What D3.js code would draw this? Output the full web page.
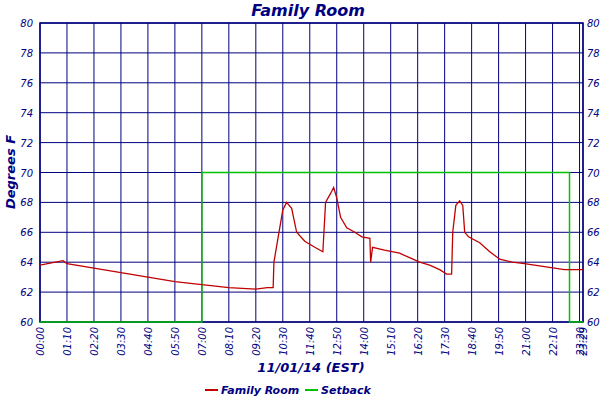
<!DOCTYPE html>
<html><head><meta charset="utf-8">
<script src="https://cdn.jsdelivr.net/npm/d3@7"></script>
<style>body{margin:0;background:#fff}text{font-family:"DejaVu Sans",sans-serif;font-style:italic;fill:#00007f}</style>
</head><body><svg id="c" width="600" height="400"></svg>
<script>
const roomTimes = ['00:00','00:40','01:00','01:10','02:20','03:30','04:40','05:50','07:00','08:10','09:20','09:50','10:05','10:07','10:30','10:40','10:53','11:06','11:27','11:53','12:14','12:21','12:34','12:42','12:50','13:00','13:16','13:37','13:55','14:16','14:18','14:23','14:54','15:33','15:59','16:25','16:51','17:17','17:35','17:48','17:51','17:59','18:09','18:17','18:22','18:32','19:01','19:27','19:53','20:26','20:57','21:49','22:41','23:29']
const roomTemps = [63.8,64.0,64.1,63.9,63.6,63.3,63.0,62.7,62.5,62.3,62.2,62.3,62.3,64.0,67.5,68.0,67.6,66.0,65.4,65.0,64.7,68.0,68.6,69.0,68.3,67.0,66.3,66.0,65.7,65.6,64.0,65.0,64.8,64.6,64.3,64.0,63.8,63.5,63.2,63.2,66.0,67.8,68.1,67.8,66.0,65.7,65.3,64.7,64.2,64.0,63.9,63.7,63.5,63.5]
const setbackTimes = ['00:00','07:00','22:54','23:29']
const setbackTemps = [60, 70, 60, 60]
const yTicks = [60, 62, 64, 66, 68, 70, 72, 74, 76, 78, 80]
const xTickLabels = ['00:00','01:10','02:20','03:30','04:40','05:50','07:00','08:10','09:20','10:30','11:40','12:50','14:00','15:10','16:20','17:30','18:40','19:50','21:00','22:10','23:20','23:29']

const mins = s => { const [h, m] = s.split(':').map(Number); return h * 60 + m }
const navy = '#00007f'
const svg = d3.select('#c')
const x = d3.scaleLinear().domain([0, mins('23:29')]).range([40, 583])
const y = d3.scaleLinear().domain([60, 80]).range([322, 23])

// grid
svg.append('g').selectAll('line').data(xTickLabels).join('line')
  .attr('x1', d => x(mins(d))).attr('x2', d => x(mins(d)))
  .attr('y1', y(80)).attr('y2', y(60)).attr('stroke', navy)
svg.append('g').selectAll('line').data(yTicks).join('line')
  .attr('x1', x.range()[0]).attr('x2', x.range()[1])
  .attr('y1', d => y(d)).attr('y2', d => y(d)).attr('stroke', navy)
svg.append('rect').attr('x', 40).attr('y', y(80)).attr('width', 543).attr('height', y(60) - y(80))
  .attr('fill', 'none').attr('stroke', navy).attr('stroke-width', 1.5)

// y labels
svg.append('g').selectAll('text').data(yTicks).join('text')
  .attr('x', 33).attr('y', d => y(d) + 4).attr('text-anchor', 'end').attr('font-size', 10).text(d => d)
svg.append('g').selectAll('text').data(yTicks).join('text')
  .attr('x', 587).attr('y', d => y(d) + 4).attr('font-size', 10).text(d => d)
// x labels
svg.append('g').selectAll('text').data(xTickLabels).join('text')
  .attr('transform', d => `translate(${x(mins(d)) + 4},327) rotate(-90)`)
  .attr('text-anchor', 'end').attr('font-size', 10).text(d => d)

const step = d3.line().curve(d3.curveStepAfter).x(d => x(mins(d[0]))).y(d => y(d[1]))
const line = d3.line().x(d => x(mins(d[0]))).y(d => y(d[1]))
svg.append('path').datum(d3.zip(setbackTimes, setbackTemps)).attr('d', step)
  .attr('fill', 'none').attr('stroke', '#00c000').attr('stroke-width', 1.5)
svg.append('path').datum(d3.zip(roomTimes, roomTemps)).attr('d', line)
  .attr('fill', 'none').attr('stroke', '#c00000').attr('stroke-width', 1.3)

svg.append('text').attr('x', 308).attr('y', 16).attr('text-anchor', 'middle')
  .attr('font-size', 16).attr('font-weight', 'bold').attr('font-family', 'DejaVu Serif').text('Family Room')
svg.append('text').attr('transform', 'translate(15,172) rotate(-90)').attr('text-anchor', 'middle')
  .attr('font-size', 13).attr('font-weight', 'bold').attr('font-family', 'DejaVu Serif').text('Degrees F')
svg.append('text').attr('x', 311).attr('y', 372).attr('text-anchor', 'middle')
  .attr('font-size', 13).attr('font-weight', 'bold').text('11/01/14 (EST)')

const legend = [['Family Room', '#c00000', 205], ['Setback', '#00c000', 305]]
legend.forEach(([name, col, lx]) => {
  svg.append('line').attr('x1', lx).attr('x2', lx + 13).attr('y1', 390).attr('y2', 390).attr('stroke', col).attr('stroke-width', 2)
  svg.append('text').attr('x', lx + 16).attr('y', 394).attr('font-size', 11).attr('font-weight', 'bold').text(name)
})
</script></body></html>
